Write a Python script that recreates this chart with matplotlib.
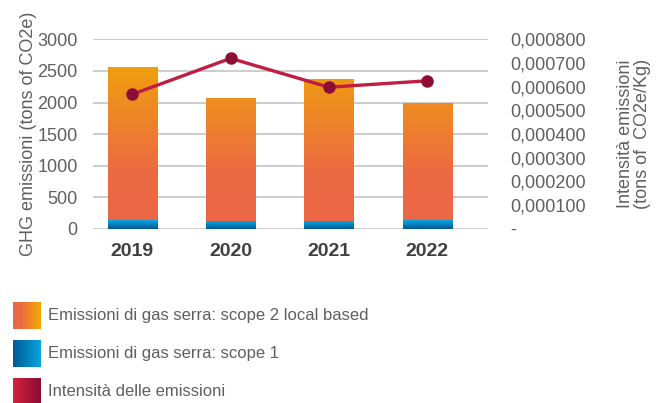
import numpy as np
import matplotlib
matplotlib.use('Agg')
import matplotlib.pyplot as plt
from matplotlib.colors import LinearSegmentedColormap

plt.rcParams['font.family'] = ['Liberation Sans', 'DejaVu Sans']

# data
years = ['2019', '2020', '2021', '2022']
scope1 = [140, 115, 115, 140]
scope2 = [2420, 1955, 2265, 1860]
intensity = [0.000568, 0.000720, 0.000598, 0.000625]

left_ticks = [0, 500, 1000, 1500, 2000, 2500, 3000]
right_ticks = [0, 0.0001, 0.0002, 0.0003, 0.0004, 0.0005, 0.0006, 0.0007, 0.0008]
right_labels = ['-', '0,000100', '0,000200', '0,000300', '0,000400',
                '0,000500', '0,000600', '0,000700', '0,000800']
legend_labels = ['Emissioni di gas serra: scope 2 local based',
                 'Emissioni di gas serra: scope 1',
                 'Intensità delle emissioni']

txt = '#5f5f5f'
orange_cm = LinearSegmentedColormap.from_list(
    'orange', [(0, '#EB6645'), (0.3, '#EC6A42'), (0.87, '#F0A00C'), (1, '#F0A500')])
blue_cm = LinearSegmentedColormap.from_list('blue', ['#005A96', '#0AA5DF'])
red_cm = LinearSegmentedColormap.from_list('red', ['#D4213F', '#8A0C32'])

fig = plt.figure(figsize=(6.57, 4.03), dpi=100)
ax = fig.add_axes([0.1416, 0.4325, 0.6012, 0.4697])

x = np.arange(len(years))
w = 0.5
b1 = ax.bar(x, scope1, w, color='none', zorder=2)
b2 = ax.bar(x, scope2, w, bottom=scope1, color='none', zorder=2)

# gradient fills clipped to the bars
ymax = 3000
for bar in b2:
    x0, y0 = bar.get_x(), bar.get_y()
    y1 = y0 + bar.get_height()
    ys = np.linspace(y0, y1, 200)[::-1] / ymax
    im = ax.imshow(ys.reshape(-1, 1), cmap=orange_cm, vmin=0, vmax=1, aspect='auto',
                   extent=(x0, x0 + bar.get_width(), y0, y1), zorder=2)
    im.set_clip_path(bar)
for bar in b1:
    x0, y0 = bar.get_x(), bar.get_y()
    y1 = y0 + bar.get_height()
    grad = np.linspace(1, 0, 50).reshape(-1, 1)
    im = ax.imshow(grad, cmap=blue_cm, vmin=0, vmax=1, aspect='auto',
                   extent=(x0, x0 + bar.get_width(), y0, y1), zorder=2)
    im.set_clip_path(bar)

ax.set_xlim(-0.40, 3.62)
ax.set_ylim(0, 3000)
ax.set_yticks(left_ticks)
ax.grid(axis='y', color='#BFBFBF', linewidth=1.1, zorder=0)
ax.set_axisbelow(True)
for s in ax.spines.values():
    s.set_visible(False)
ax.set_xticks(x)
ax.set_xticklabels(years, fontsize=14, fontweight='bold', color='#404040')
ax.tick_params(axis='x', length=0, pad=10)
ax.tick_params(axis='y', length=0, pad=11, labelsize=13, labelcolor=txt)
ax.set_ylabel('GHG emissioni (tons of CO2e)', fontsize=13, color=txt, labelpad=0)

ax2 = ax.twinx()
ax2.plot(x, intensity, color='#C01D42', linewidth=2.4, marker='o', markersize=8,
         markerfacecolor='#8E0E33', markeredgecolor='#8E0E33', zorder=3)
ax2.set_ylim(0, 0.0008)
ax2.set_yticks(right_ticks)
ax2.set_yticklabels(right_labels)
for s in ax2.spines.values():
    s.set_visible(False)
ax2.tick_params(axis='y', length=0, pad=16, labelsize=13, labelcolor=txt)
ax2.set_ylabel('Intensità emissioni\n(tons of  CO2e/Kg)', fontsize=13, color=txt,
               linespacing=1.05, labelpad=22)

# legend with gradient squares
W, H = 657, 403
cmaps = [orange_cm, blue_cm, red_cm]
tops = [302, 340, 378]
for lab, cm, t in zip(legend_labels, cmaps, tops):
    lax = fig.add_axes([13 / W, 1 - (t + 27) / H, 28 / W, 27 / H])
    lax.imshow(np.linspace(0, 1, 64).reshape(1, -1), cmap=cm, aspect='auto')
    lax.axis('off')
    fig.text(48 / W, 1 - (t + 13.5) / H, lab, fontsize=12, color=txt, va='center')

fig.savefig('out.png', dpi=100)
